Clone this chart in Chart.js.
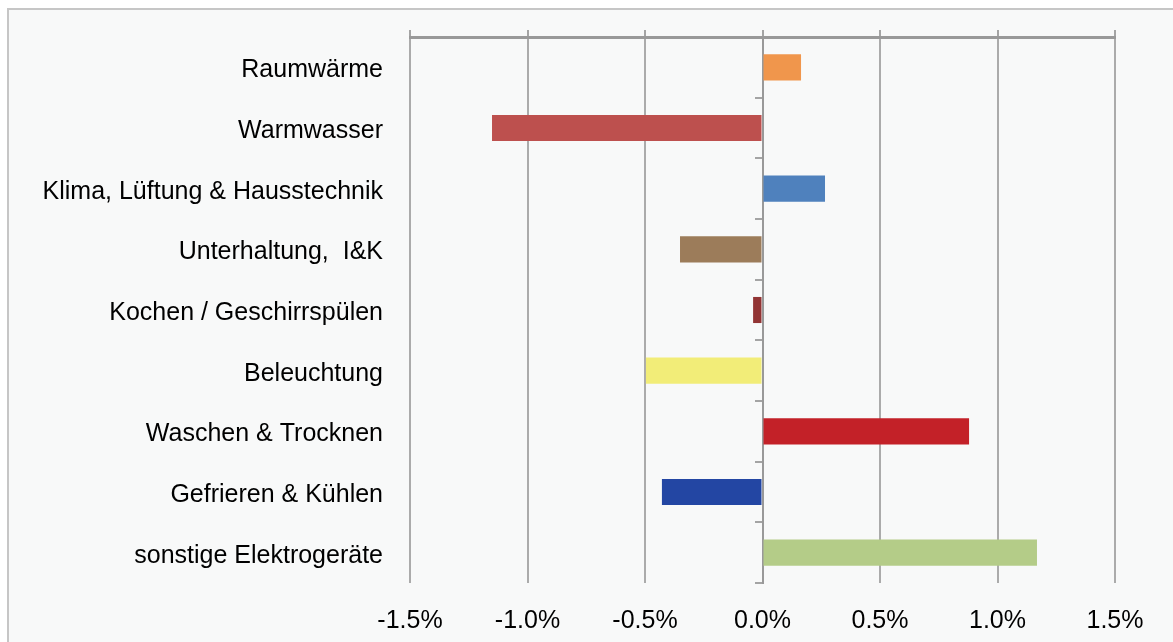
<!DOCTYPE html>
<html>
<head>
<meta charset="utf-8">
<script src="https://cdn.jsdelivr.net/npm/chart.js@4.4.1/dist/chart.umd.min.js"></script>
<style>
  html, body { margin: 0; padding: 0; background: #ffffff; width: 1173px; height: 642px; overflow: hidden; }
  #frame { position: absolute; left: 7px; top: 8px; width: 1200px; height: 700px; border: 2px solid #c6c6c6; background: #f8f9f9; }
  #c { position: absolute; left: 0; top: 0; }
</style>
</head>
<body>
<div id="frame"></div>
<canvas id="c" width="1173" height="642"></canvas>
<script>
const categories = [
  "Raumwärme",
  "Warmwasser",
  "Klima, Lüftung & Hausstechnik",
  "Unterhaltung,  I&K",
  "Kochen / Geschirrspülen",
  "Beleuchtung",
  "Waschen & Trocknen",
  "Gefrieren & Kühlen",
  "sonstige Elektrogeräte"
];
const changePercent = [0.164, -1.151, 0.266, -0.351, -0.040, -0.496, 0.879, -0.428, 1.168];
const barColors = ["#F0964C", "#BD504E", "#4F81BD", "#9C7C5A", "#923434", "#F2ED78", "#C32128", "#2346A3", "#B4CC88"];
const xMin = -1.5, xMax = 1.5, xStep = 0.5;

const FONT = "'Liberation Sans', Arial, sans-serif";

new Chart(document.getElementById('c'), {
  type: 'bar',
  data: {
    labels: categories,
    datasets: [{
      data: changePercent,
      backgroundColor: barColors,
      borderWidth: 0,
      barPercentage: 0.43,
      categoryPercentage: 1.0
    }]
  },
  options: {
    indexAxis: 'y',
    responsive: false,
    animation: false,
    events: [],
    layout: { padding: { left: 0, right: 58, top: 30, bottom: 0 } },
    plugins: { legend: { display: false }, tooltip: { enabled: false } },
    scales: {
      x: {
        type: 'linear',
        position: 'bottom',
        min: xMin, max: xMax,
        ticks: {
          stepSize: xStep,
          padding: 23,
          color: '#000',
          font: { family: FONT, size: 25 },
          callback: v => v.toFixed(1) + '%'
        },
        grid: {
          drawTicks: false,
          color: ctx => (ctx.tick && ctx.tick.value === 0) ? '#999999' : '#ababab',
          lineWidth: 2
        },
        border: { display: false },
        afterFit: s => { s.height = 59; }
      },
      x2: {
        type: 'linear',
        position: 'top',
        min: xMin, max: xMax,
        ticks: { stepSize: xStep, display: false },
        grid: { drawOnChartArea: false, drawTicks: true, tickLength: 7, color: '#a4a4a4', lineWidth: 2 },
        border: { display: true, color: '#999999', width: 3 },
        afterFit: s => { s.height = 7; }
      },
      y: {
        type: 'category',
        position: 'left',
        ticks: {
          padding: 27,
          labelOffset: 3,
          color: '#000',
          font: { family: FONT, size: 25 }
        },
        grid: { display: false, drawTicks: false },
        border: { display: false },
        afterFit: s => { s.width = 410; s.paddingTop = 0; s.paddingBottom = 0; }
      },
      y2: {
        type: 'category',
        position: { x: 0 },
        offset: true,
        ticks: { display: false },
        grid: { drawOnChartArea: false, drawTicks: true, tickLength: 7, offset: true, color: '#a4a4a4', lineWidth: 2 },
        border: { display: true, color: '#999999', width: 2 }
      }
    }
  }
});
</script>
</body>
</html>
